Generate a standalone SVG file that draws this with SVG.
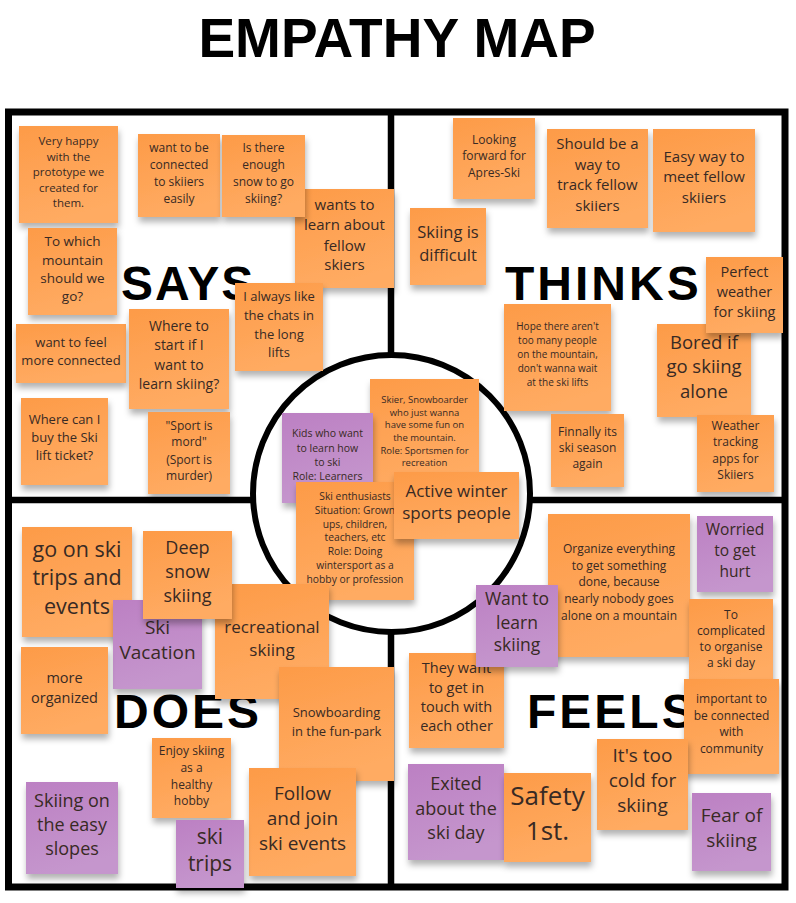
<svg xmlns="http://www.w3.org/2000/svg" width="796" height="903" viewBox="0 0 796 903">
<defs>
<linearGradient id="gO" x1="0" y1="0" x2="0.3" y2="1"><stop offset="0" stop-color="#FD9B48"/><stop offset="1" stop-color="#FFAB62"/></linearGradient>
<linearGradient id="gP" x1="0" y1="0" x2="0.3" y2="1"><stop offset="0" stop-color="#BC80C3"/><stop offset="1" stop-color="#C596CD"/></linearGradient>
<filter id="sh" x="-20%" y="-20%" width="140%" height="150%"><feDropShadow dx="1" dy="5" stdDeviation="3" flood-color="#000" flood-opacity="0.3"/></filter>
</defs>
<style>
.o{fill:url(#gO);filter:url(#sh)}
.p{fill:url(#gP);filter:url(#sh)}
text{font-family:"Open Sans","DejaVu Sans",sans-serif;fill:#382a24;text-anchor:middle}
.lbl{font-family:"Liberation Sans",Arial,sans-serif;font-weight:700;font-size:48px;fill:#000;letter-spacing:3px;text-anchor:start}
.title{font-family:"Liberation Sans",Arial,sans-serif;font-weight:700;font-size:55px;fill:#000}
.frame{fill:none;stroke:#000;stroke-width:7}
.div{stroke:#000;stroke-width:6.5}
</style>
<rect width="796" height="903" fill="#fff"/>
<text class="title" x="397" y="57">EMPATHY MAP</text>
<g id="frame">
<rect class="frame" x="8.5" y="112" width="776.5" height="775"/>
<line class="div" x1="391" y1="112" x2="391" y2="887"/>
<line class="div" x1="8.5" y1="500" x2="785" y2="500"/>
<circle cx="391.5" cy="493.5" r="138.5" fill="#fff" stroke="#000" stroke-width="6"/>
</g>
<g id="labels">
<text class="lbl" x="121" y="300" style="letter-spacing:2px">SAYS</text>
<text class="lbl" x="505" y="300">THINKS</text>
<text class="lbl" x="114" y="728">DOES</text>
<text class="lbl" x="527" y="728">FEELS</text>
</g>
<g id="n1"><rect class="o" x="19" y="126" width="99" height="97"/><text font-size="11.5"><tspan x="68.5" y="145.2">Very happy</tspan><tspan x="68.5" y="160.5">with the</tspan><tspan x="68.5" y="175.8">prototype we</tspan><tspan x="68.5" y="191.5">created for</tspan><tspan x="68.5" y="206.8">them.</tspan></text></g>
<g id="n2"><rect class="o" x="138" y="134" width="82" height="83"/><text font-size="12"><tspan x="179" y="151.9">want to be</tspan><tspan x="179" y="168.6">connected</tspan><tspan x="179" y="185.9">to skiiers</tspan><tspan x="179" y="202.9">easily</tspan></text></g>
<g id="n4"><rect class="o" x="295" y="189" width="99" height="99"/><text font-size="15"><tspan x="344.5" y="209.5">wants to</tspan><tspan x="344.5" y="230.2">learn about</tspan><tspan x="344.5" y="250.5">fellow</tspan><tspan x="344.5" y="270.2">skiers</tspan></text></g>
<g id="n3"><rect class="o" x="222" y="135" width="83" height="82"/><text font-size="12"><tspan x="263.5" y="151.9">Is there</tspan><tspan x="263.5" y="168.6">enough</tspan><tspan x="263.5" y="185.9">snow to go</tspan><tspan x="263.5" y="202.9">skiing?</tspan></text></g>
<g id="n5"><rect class="o" x="28" y="228" width="89" height="87"/><text font-size="13.5"><tspan x="72.5" y="245.7">To which</tspan><tspan x="72.5" y="264.7">mountain</tspan><tspan x="72.5" y="282.7">should we</tspan><tspan x="72.5" y="301.3">go?</tspan></text></g>
<g id="n6"><rect class="o" x="235" y="283" width="88" height="88"/><text font-size="13"><tspan x="279" y="300.6">I always like</tspan><tspan x="279" y="320">the chats in</tspan><tspan x="279" y="339">the long</tspan><tspan x="279" y="357">lifts</tspan></text></g>
<g id="n7"><rect class="o" x="16" y="324" width="110" height="59"/><text font-size="13"><tspan x="71" y="346.6">want to feel</tspan><tspan x="71" y="364.6">more connected</tspan></text></g>
<g id="n8"><rect class="o" x="129" y="309" width="100" height="100"/><text font-size="14"><tspan x="179" y="330.9">Where to</tspan><tspan x="179" y="350.2">start if I</tspan><tspan x="179" y="369.5">want to</tspan><tspan x="179" y="388.5">learn skiing?</tspan></text></g>
<g id="n9"><rect class="o" x="21" y="398" width="87" height="87"/><text font-size="13"><tspan x="64.5" y="423.9">Where can I</tspan><tspan x="64.5" y="442.2">buy the Ski</tspan><tspan x="64.5" y="459.9">lift ticket?</tspan></text></g>
<g id="n10"><rect class="o" x="148" y="412" width="82" height="82"/><text font-size="12"><tspan x="189" y="429.6">"Sport is</tspan><tspan x="189" y="446.3">mord"</tspan><tspan x="189" y="463.6">(Sport is</tspan><tspan x="189" y="479.6">murder)</tspan></text></g>
<g id="n11"><rect class="o" x="453" y="118" width="82" height="81"/><text font-size="12"><tspan x="494" y="143.6">Looking</tspan><tspan x="494" y="160.3">forward for</tspan><tspan x="494" y="176.9">Apres-Ski</tspan></text></g>
<g id="n12"><rect class="o" x="547" y="129" width="101" height="99"/><text font-size="15"><tspan x="597.5" y="148.8">Should be a</tspan><tspan x="597.5" y="169.5">way to</tspan><tspan x="597.5" y="190.2">track fellow</tspan><tspan x="597.5" y="210.5">skiiers</tspan></text></g>
<g id="n13"><rect class="o" x="653" y="129" width="102" height="103"/><text font-size="15"><tspan x="704" y="161.8">Easy way to</tspan><tspan x="704" y="182.2">meet fellow</tspan><tspan x="704" y="202.8">skiiers</tspan></text></g>
<g id="n14"><rect class="o" x="410" y="208" width="76" height="77"/><text font-size="16.5"><tspan x="448" y="238.3">Skiing is</tspan><tspan x="448" y="260.7">difficult</tspan></text></g>
<g id="n17"><rect class="o" x="657" y="324" width="94" height="93"/><text font-size="18.5"><tspan x="704" y="348.8">Bored if</tspan><tspan x="704" y="373.2">go skiing</tspan><tspan x="704" y="397.8">alone</tspan></text></g>
<g id="n15"><rect class="o" x="706" y="257" width="77" height="76"/><text font-size="14.5"><tspan x="744.5" y="277.1">Perfect</tspan><tspan x="744.5" y="297.1">weather</tspan><tspan x="744.5" y="316.7">for skiing</tspan></text></g>
<g id="n16"><rect class="o" x="504" y="304" width="107" height="107"/><text font-size="10"><tspan x="557.5" y="329.5">Hope there aren't</tspan><tspan x="557.5" y="343.5">too many people</tspan><tspan x="557.5" y="357.5">on the mountain,</tspan><tspan x="557.5" y="371.5">don't wanna wait</tspan><tspan x="557.5" y="385.5">at the ski lifts</tspan></text></g>
<g id="n18"><rect class="o" x="551" y="414" width="73" height="73"/><text font-size="12"><tspan x="587.5" y="435.9">Finnally its</tspan><tspan x="587.5" y="451.9">ski season</tspan><tspan x="587.5" y="467.9">again</tspan></text></g>
<g id="n19"><rect class="o" x="697" y="415" width="77" height="77"/><text font-size="12"><tspan x="735.5" y="430.3">Weather</tspan><tspan x="735.5" y="446.3">tracking</tspan><tspan x="735.5" y="462.6">apps for</tspan><tspan x="735.5" y="478.6">Skiiers</tspan></text></g>
<g id="n21"><rect class="o" x="370" y="379" width="109" height="109"/><text font-size="9.5"><tspan x="424.5" y="402.9">Skier, Snowboarder</tspan><tspan x="424.5" y="415.6">who just wanna</tspan><tspan x="424.5" y="428.3">have some fun on</tspan><tspan x="424.5" y="441">the mountain.</tspan><tspan x="424.5" y="453.7">Role: Sportsmen for</tspan><tspan x="424.5" y="466.4">recreation</tspan></text></g>
<g id="n20"><rect class="p" x="282" y="413" width="91" height="90"/><text font-size="10.5"><tspan x="327.5" y="437.2">Kids who want</tspan><tspan x="327.5" y="451.5">to learn how</tspan><tspan x="327.5" y="465.9">to ski</tspan><tspan x="327.5" y="480.2">Role: Learners</tspan></text></g>
<g id="n22"><rect class="o" x="296" y="482" width="118" height="118"/><text font-size="10.3"><tspan x="355" y="499.8">Ski enthusiasts</tspan><tspan x="355" y="513.8">Situation: Grown</tspan><tspan x="355" y="527.8">ups, children,</tspan><tspan x="355" y="541.1">teachers, etc</tspan><tspan x="355" y="554.8">Role: Doing</tspan><tspan x="355" y="568.8">wintersport as a</tspan><tspan x="355" y="582.8">hobby or profession</tspan></text></g>
<g id="n23"><rect class="o" x="394" y="472" width="125" height="67"/><text font-size="17"><tspan x="456.5" y="496.8">Active winter</tspan><tspan x="456.5" y="519.1">sports people</tspan></text></g>
<g id="n24"><rect class="o" x="22" y="527" width="110" height="110"/><text font-size="21.5"><tspan x="77" y="556.5">go on ski</tspan><tspan x="77" y="585.2">trips and</tspan><tspan x="77" y="613.8">events</tspan></text></g>
<g id="n25"><rect class="p" x="113" y="600" width="89" height="89"/><text font-size="19"><tspan x="157.5" y="634">Ski</tspan><tspan x="157.5" y="659">Vacation</tspan></text></g>
<g id="n27"><rect class="o" x="215" y="584" width="114" height="115"/><text font-size="17"><tspan x="272" y="633.4">recreational</tspan><tspan x="272" y="655.8">skiing</tspan></text></g>
<g id="n26"><rect class="o" x="143" y="531" width="89" height="88"/><text font-size="18"><tspan x="187.5" y="553.7">Deep</tspan><tspan x="187.5" y="578.1">snow</tspan><tspan x="187.5" y="602.1">skiing</tspan></text></g>
<g id="n28"><rect class="o" x="21" y="647" width="87" height="87"/><text font-size="14.5"><tspan x="64.5" y="682.7">more</tspan><tspan x="64.5" y="703.4">organized</tspan></text></g>
<g id="n29"><rect class="o" x="279" y="667" width="115" height="114"/><text font-size="13"><tspan x="336.5" y="717.2">Snowboarding</tspan><tspan x="336.5" y="735.6">in the fun-park</tspan></text></g>
<g id="n30"><rect class="o" x="152" y="738" width="79" height="80"/><text font-size="12"><tspan x="191.5" y="755.3">Enjoy skiing</tspan><tspan x="191.5" y="771.9">as a</tspan><tspan x="191.5" y="788.6">healthy</tspan><tspan x="191.5" y="805.3">hobby</tspan></text></g>
<g id="n31"><rect class="o" x="249" y="768" width="107" height="108"/><text font-size="19"><tspan x="302.5" y="799.7">Follow</tspan><tspan x="302.5" y="824.7">and join</tspan><tspan x="302.5" y="849.7">ski events</tspan></text></g>
<g id="n32"><rect class="p" x="26" y="782" width="92" height="92"/><text font-size="18"><tspan x="72" y="807.1">Skiing on</tspan><tspan x="72" y="831.1">the easy</tspan><tspan x="72" y="855.4">slopes</tspan></text></g>
<g id="n33"><rect class="p" x="176" y="820" width="68" height="68"/><text font-size="21"><tspan x="210" y="843.6">ski</tspan><tspan x="210" y="871.3">trips</tspan></text></g>
<g id="n34"><rect class="o" x="548" y="514" width="142" height="143"/><text font-size="12"><tspan x="619" y="552.9">Organize everything</tspan><tspan x="619" y="569.6">to get something</tspan><tspan x="619" y="586.3">done, because</tspan><tspan x="619" y="603">nearly nobody goes</tspan><tspan x="619" y="619.7">alone on a mountain</tspan></text></g>
<g id="n35"><rect class="p" x="697" y="516" width="76" height="76"/><text font-size="15.5"><tspan x="735" y="535.4">Worried</tspan><tspan x="735" y="556.4">to get</tspan><tspan x="735" y="577">hurt</tspan></text></g>
<g id="n39"><rect class="o" x="409" y="653" width="95" height="95"/><text font-size="14.5"><tspan x="456.5" y="672.7">They want</tspan><tspan x="456.5" y="692.7">to get in</tspan><tspan x="456.5" y="712.1">touch with</tspan><tspan x="456.5" y="731.1">each other</tspan></text></g>
<g id="n36"><rect class="p" x="476" y="585" width="82" height="82"/><text font-size="17.5"><tspan x="517" y="605.3">Want to</tspan><tspan x="517" y="628.6">learn</tspan><tspan x="517" y="651.3">skiing</tspan></text></g>
<g id="n37"><rect class="o" x="689" y="599" width="84" height="84"/><text font-size="12"><tspan x="731" y="618.6">To</tspan><tspan x="731" y="634.6">complicated</tspan><tspan x="731" y="650.9">to organise</tspan><tspan x="731" y="666.9">a ski day</tspan></text></g>
<g id="n38"><rect class="o" x="684" y="679" width="95" height="95"/><text font-size="12"><tspan x="731.5" y="702.9">important to</tspan><tspan x="731.5" y="719.5">be connected</tspan><tspan x="731.5" y="736.1">with</tspan><tspan x="731.5" y="752.7">community</tspan></text></g>
<g id="n42"><rect class="o" x="597" y="739" width="91" height="91"/><text font-size="19"><tspan x="642.5" y="762.4">It's too</tspan><tspan x="642.5" y="787.4">cold for</tspan><tspan x="642.5" y="812.4">skiing</tspan></text></g>
<g id="n40"><rect class="p" x="408" y="764" width="96" height="96"/><text font-size="18"><tspan x="456" y="790.4">Exited</tspan><tspan x="456" y="814.7">about the</tspan><tspan x="456" y="838.7">ski day</tspan></text></g>
<g id="n41"><rect class="o" x="504" y="773" width="87" height="89"/><text font-size="26"><tspan x="547.5" y="804.5">Safety</tspan><tspan x="547.5" y="839.5">1st.</tspan></text></g>
<g id="n43"><rect class="p" x="692" y="793" width="79" height="78"/><text font-size="19"><tspan x="731.5" y="821.7">Fear of</tspan><tspan x="731.5" y="847.4">skiing</tspan></text></g>
</svg>
